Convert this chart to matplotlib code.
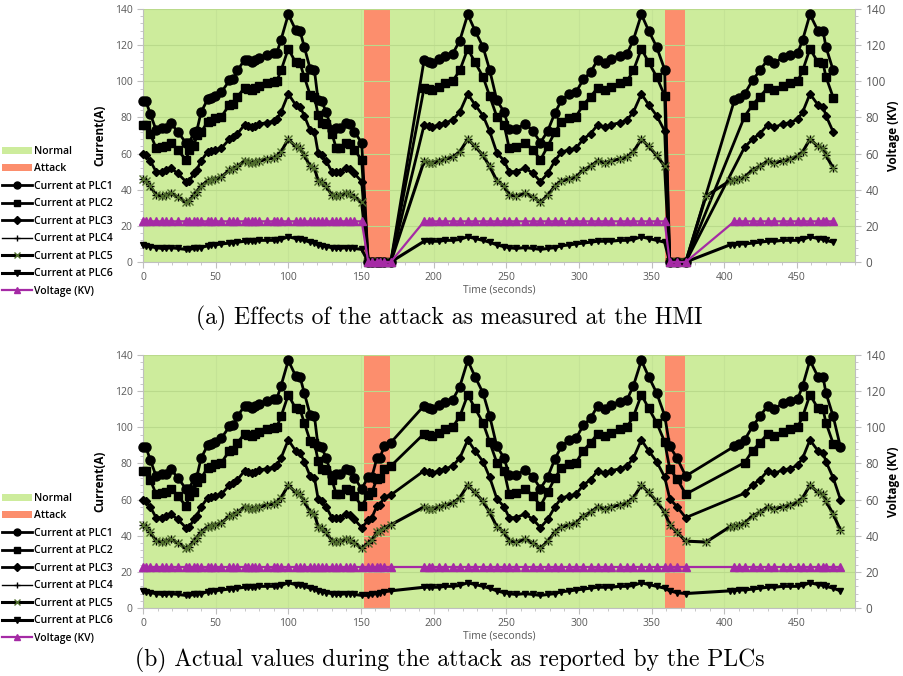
import numpy as np
import matplotlib
matplotlib.use('Agg')
import matplotlib.pyplot as plt
from matplotlib.ticker import MultipleLocator
from matplotlib.lines import Line2D
from matplotlib.patches import Patch

nan = np.nan

# ---------------- data ----------------
time_s = [0, 2, 5, 9, 13, 16, 19, 24, 29.5, 32, 35, 37, 40, 44.5, 47, 49.5, 54, 59.5, 62, 65,
          70, 72, 75, 77, 80, 85, 90, 92, 95, 100, 105, 108, 111, 115, 118, 120.5, 123, 126, 130, 133,
          135.5, 140, 142.5, 145.5, 150.5,
          155, 157.5, 161, 163, 166, 170.5,
          193.5, 196.5, 199, 203.5, 208, 213, 218, 223.5, 228.5, 234,
          238.5, 243.5, 248.5, 252, 256.5, 263, 268.5, 273.5, 278.5, 283.5,
          288, 293.5, 298, 303, 308, 313, 318, 322, 328, 333,
          337.5, 343, 348, 353.5, 359,
          362.5, 367.5, 373.5,
          387.5, 404, 407, 410.5, 414, 419.5, 424.5, 430, 434.5, 440.5,
          445, 450.5, 454, 459, 464.5, 468, 470, 475, 480]

plc1 = [89, 89, 82, 73, 74, 74, 77, 72, 66, 66, 72, 72.5, 83, 90, 90.5, 92, 94, 100.5, 101, 106,
        112, 112, 110.5, 112, 113, 114.5, 115.5, 115.5, 123, 137, 128.5, 128, 119, 107, 106, 89.5, 89, 83, 73, 74,
        74, 77, 76.5, 72, 66,
        72.5, 72.5, 83, 83, 89.5, 91.5,
        112, 110.5, 110, 112.5, 114, 115, 122.5, 137, 128, 119,
        106.5, 89.5, 83, 73.5, 73.5, 76.5, 72.5, 66, 72.5, 82.5,
        89.5, 93, 94, 101, 105, 112, 110, 112.5, 114, 115,
        123, 137, 128, 119, 106.5,
        89.5, 83, 73,
        nan, nan, 89.5, 91, 93, 100.5, 106, 112, 110, 113.5,
        114.5, 115.5, 123, 137, 128, 128, 119, 106, 89]

plc2 = [76, 76, 71, 63, 63.5, 64, 66, 62, 56.5, 62, 64, 70, 72, 77.5, 78, 79.5, 80.5, 87, 87.5, 91.5,
        96.5, 96, 95, 96.5, 97.5, 99, 99.5, 100, 106, 118, 110.5, 110, 102.5, 92.5, 91.5, 81.5, 77, 76.5, 71, 63,
        63, 66, 65.5, 62, 56.5,
        62.5, 64, 71.5, 72, 77, 78.5,
        96.5, 95.5, 95, 97, 99, 100, 106, 118, 110.5, 102.5,
        92, 80.5, 76, 63, 63.5, 66, 62, 56.5, 64, 72,
        77.5, 79.5, 80.5, 87, 91.5, 96.5, 95, 97, 99, 100,
        106, 118, 110.5, 102.5, 92,
        77, 71.5, 63,
        nan, nan, nan, nan, 80.5, 87, 91.5, 96.5, 95, 97.5,
        99, 100, 106, 118, 110.5, 110, 102.5, 91, nan]

plc3 = [60, 59, 56, 50, 50, 51, 52, 49, 44.5, 45, 49, 51, 56, 61, 61.5, 62, 63, 68, 69, 71,
        76, 75.5, 74.5, 75.5, 76.5, 77, 78, 79, 83, 93, 87, 86, 81, 73, 72, 60.5, 59, 56, 50, 50,
        50, 52, 51.5, 49, 44.5,
        48.5, 50, 56.5, 57, 61.5, 62.5,
        76, 75, 74.5, 76, 77, 78.5, 83, 93, 87, 81,
        72.5, 60.5, 56, 50, 50, 52, 49, 44.5, 49, 56,
        61, 62, 63, 68, 71, 76, 74.5, 76, 77, 78.5,
        83, 93, 87, 81, 72.5,
        60.5, 56, 50,
        nan, nan, nan, nan, 63.5, 68, 71, 76, 74.5, 76.5,
        77, 79, 83, 93, 87, 86, 81, 72, 60]

plc5 = [46, 45, 42, 37, 36.5, 37, 38, 36, 33, 34, 37, 39, 42, 45, 45.5, 46, 47, 51, 51.5, 53,
        56, 55.5, 55, 55.5, 56, 57, 57.5, 58.5, 61, 68, 64, 63, 59, 53, 52, 45, 44.5, 42, 37, 36.5,
        37, 38, 37.5, 36, 33,
        36, 37.5, 42, 42.5, 44.5, 46,
        56, 55, 55, 56, 57, 58, 61, 68, 64, 59,
        53, 45, 42, 37, 36.5, 38, 36, 33, 37, 42,
        45, 46, 47, 51, 53, 56, 55, 56, 57, 58,
        61, 68, 64, 59, 53,
        46, 42, 37,
        36.5, 45, 45.5, 46, 47, 51, 53, 56, 55, 56,
        57, 58.5, 61, 68, 64, 63, 59, 52, 43]

plc4 = plc5  # PLC4 readings coincide with PLC5 (hidden underneath)

plc6 = [9.5, 9, 8.5, 8, 7.5, 7.5, 8, 7.5, 7, 7, 7.5, 7.5, 8, 9, 9.5, 9.5, 10, 10.5, 10.5, 11,
        11.5, 11.5, 11.5, 11.5, 12, 12, 12, 12, 12.5, 14, 13, 12.5, 12, 11, 10.5, 9.5, 9, 8.5, 8, 7.5,
        7.5, 8, 8, 7.5, 7,
        7, 7.5, 8, 8.5, 9, 9.5,
        11.5, 11.5, 11.5, 11.5, 12, 12, 12.5, 14, 13, 12,
        11, 9.5, 8.5, 8, 7.5, 8, 7.5, 7, 7.5, 8,
        9, 9.5, 10, 10.5, 11, 11.5, 11.5, 11.5, 12, 12,
        12.5, 14, 13, 12, 11,
        9.5, 8.5, 8,
        nan, 9.5, 9.5, 10, 10, 10.5, 11, 11.5, 11.5, 12,
        12, 12, 12.5, 14, 13, 12.5, 12, 11, 9.5]

voltage_kv = [22.5, 22.5, 22.5, 22.5, 22.5, 22.5, 22.5, 22.5, 22.5, 22.5,
              22.5, 22.5, 22.5, 22.5, 22.5, 22.5, 22.5, 22.5, 22.5, 22.5,
              22.5, 22.5, 22.5, 22.5, 22.5, 22.5, 22.5, 22.5, 22.5, 22.5,
              22.5, 22.5, 22.5, 22.5, 22.5, 22.5, 22.5, 22.5, 22.5, 22.5,
              22.5, 22.5, 22.5, 22.5, 22.5,
              22.5, 22.5, 22.5, 22.5, 22.5, 22.5,
              22.5, 22.5, 22.5, 22.5, 22.5, 22.5, 22.5, 22.5, 22.5, 22.5,
              22.5, 22.5, 22.5, 22.5, 22.5, 22.5, 22.5, 22.5, 22.5, 22.5,
              22.5, 22.5, 22.5, 22.5, 22.5, 22.5, 22.5, 22.5, 22.5, 22.5,
              22.5, 22.5, 22.5, 22.5, 22.5,
              22.5, 22.5, 22.5,
              nan, nan, 22.5, 22.5, 22.5, 22.5, 22.5, 22.5, 22.5, 22.5,
              22.5, 22.5, 22.5, 22.5, 22.5, 22.5, 22.5, 22.5, 22.5]

attack_start = [152, 359.5]
attack_end = [170, 373]
hmi_last_time = 476

series_names = ['Current at PLC1', 'Current at PLC2', 'Current at PLC3',
                'Current at PLC4', 'Current at PLC5', 'Current at PLC6']
series_vals = [plc1, plc2, plc3, plc4, plc5, plc6]

# ---------------- style ----------------
GREEN = '#CDEC9C'
SALMON = '#FC8E6D'
PURPLE = '#A52AA5'
GREY = '#595959'
TICKC = '#BFBFBF'
SANS = ['Open Sans', 'DejaVu Sans']

styles = [
    dict(marker='o', ms=6.5, lw=2.0, color='black'),
    dict(marker='s', ms=6.0, lw=2.0, color='black'),
    dict(marker='D', ms=4.0, lw=2.0, color='black'),
    dict(marker='+', ms=6.0, lw=1.0, color='black'),
    dict(marker='x', ms=5.5, lw=2.2, color='black', mec='#4f6d2c', mew=1.0),
    dict(marker='v', ms=4.5, lw=2.2, color='black'),
]
legend_ms = [5, 5, 4, 5, 4, 4.5]

fig = plt.figure(figsize=(9.04, 6.76), dpi=100)
W, H = 904.0, 676.0

t_all = np.array(time_s, dtype=float)


def draw_panel(top_px, bottom_px, mode, caption, caption_px, legend_top_px, show_xlabel=True):
    left_px, right_px = 143, 855
    ax = fig.add_axes([left_px / W, 1 - bottom_px / H,
                       (right_px - left_px) / W, (bottom_px - top_px) / H])
    ax.set_facecolor(GREEN)
    ax.set_xlim(0, 490)
    ax.set_ylim(0, 140)
    for s, e in zip(attack_start, attack_end):
        ax.axvspan(s, e, color=SALMON, lw=0, zorder=0.5)
    ax.yaxis.set_major_locator(MultipleLocator(20))
    ax.yaxis.set_minor_locator(MultipleLocator(4))
    ax.xaxis.set_major_locator(MultipleLocator(50))
    ax.xaxis.set_minor_locator(MultipleLocator(10))
    ax.grid(axis='y', which='major', color='#BADA8B', lw=0.8, zorder=0.6)
    ax.grid(axis='x', which='major', color='#C4E396', lw=0.8, zorder=0.6)
    for sp in ['top', 'right']:
        ax.spines[sp].set_visible(False)
    for sp in ['left', 'bottom']:
        ax.spines[sp].set_color(TICKC)
    ax.tick_params(which='both', colors=TICKC, labelcolor=GREY, labelsize=7.5, direction='out')
    ax.tick_params(which='major', length=4)
    ax.tick_params(which='minor', length=2.5)
    ax.set_ylabel('Current(A)', fontsize=8.5, fontweight='bold', family=SANS, labelpad=6)
    if show_xlabel:
        ax.set_xlabel('Time (seconds)', fontsize=7.5, color=GREY, family=SANS, labelpad=1)
    for lab in ax.get_xticklabels() + ax.get_yticklabels():
        lab.set_family(SANS)

    ax2 = ax.twinx()
    ax2.set_ylim(0, 140)
    ax2.yaxis.set_major_locator(MultipleLocator(20))
    ax2.yaxis.set_minor_locator(MultipleLocator(4))
    for sp in ['top', 'left', 'bottom']:
        ax2.spines[sp].set_visible(False)
    ax2.spines['right'].set_color(TICKC)
    ax2.tick_params(which='both', colors=TICKC, labelcolor=GREY, labelsize=8.5, direction='out')
    ax2.tick_params(which='major', length=4)
    ax2.tick_params(which='minor', length=2.5)
    ax2.set_ylabel('Voltage (KV)', fontsize=8.5, fontweight='bold', family=SANS, labelpad=1)
    for lab in ax2.get_yticklabels():
        lab.set_family(SANS)

    if mode == 'hmi':
        keep = t_all <= hmi_last_time
        under = np.zeros_like(t_all, dtype=bool)
        for s, e in zip(attack_start, attack_end):
            under |= (t_all > s) & (t_all <= e + 1)
    else:
        keep = np.ones_like(t_all, dtype=bool)
        under = np.zeros_like(t_all, dtype=bool)

    for vals, st in zip(series_vals, styles):
        v = np.array(vals, dtype=float)
        v = np.where(under & ~np.isnan(v), 0.0, v)
        m = keep & ~np.isnan(v)
        ax.plot(t_all[m], v[m], clip_on=False, zorder=3, **st)

    vv = np.array(voltage_kv, dtype=float)
    vv = np.where(under, 0.0, vv)
    m = keep & ~np.isnan(vv)
    ax2.plot(t_all[m], vv[m], color=PURPLE, lw=1.6, marker='^', ms=6,
             clip_on=False, zorder=3)

    handles = [Patch(facecolor=GREEN, edgecolor='none'),
               Patch(facecolor=SALMON, edgecolor='none')]
    for st, lms in zip(styles, legend_ms):
        d = dict(st)
        d['ms'] = lms
        handles.append(Line2D([], [], **d))
    handles.append(Line2D([], [], color=PURPLE, lw=1.6, marker='^', ms=5))
    labels = ['Normal', 'Attack'] + series_names + ['Voltage (KV)']
    fig.legend(handles, labels, loc='upper left',
               bbox_to_anchor=(0.002, 1 - legend_top_px / H),
               frameon=False, prop={'family': SANS, 'size': 7.5, 'weight': 'semibold'},
               handlelength=2.9, handletextpad=0.2, labelspacing=0.62,
               borderaxespad=0.0, borderpad=0.0)

    fig.text(0.497, 1 - caption_px / H, caption, ha='center', va='center',
             family='cmr10', fontsize=17)
    return ax


draw_panel(9, 262, 'hmi', '(a) Effects of the attack as measured at the HMI', 318, 146)
draw_panel(355, 608, 'plc', '(b) Actual values during the attack as reported by the PLCs', 660, 493)

fig.savefig('out.png', dpi=100)
